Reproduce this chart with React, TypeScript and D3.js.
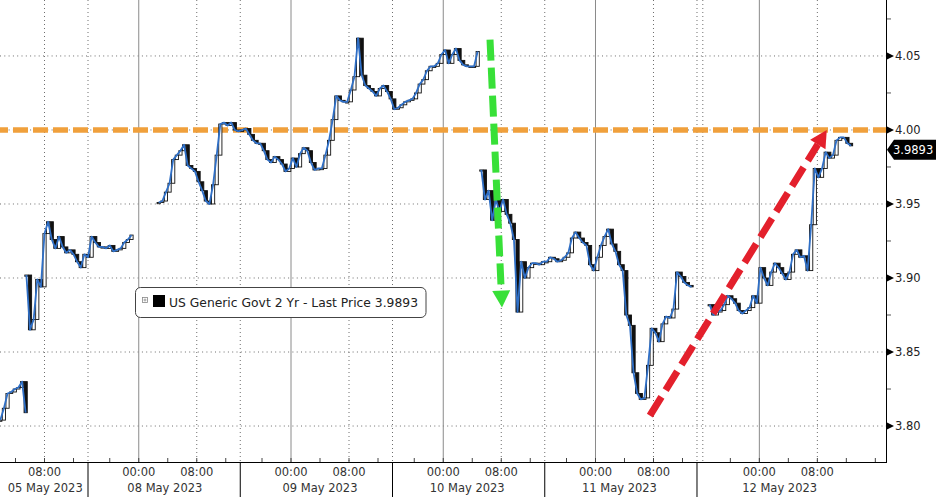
import React from 'react';
import * as d3 from 'd3';

const WIDTH = 936;
const HEIGHT = 497;

const seriesName = 'US Generic Govt 2 Yr - Last Price';

// Time is in compressed trading hours; 0 = start of the 08 May session.
const dayLabels = ['05 May 2023', '08 May 2023', '09 May 2023', '10 May 2023', '11 May 2023', '12 May 2023'];
const dayLabelHours = [-5.9, 10.6, 32, 52.3, 73.3, 95.4];
const midnightHours = [7, 28, 49, 70, 92.6];
const eightHours = [-6, 15, 36, 57, 78, 100.6];
const sessionBreakHours = [0, 21, 42, 63, 84];
const extraGridHours = [84.8];
const domainHours = [-12.14, 110.07];

const yTicks = [3.8, 3.85, 3.9, 3.95, 4.0, 4.05];
const yMinorTicks = [3.825, 3.875, 3.925, 3.975, 4.025, 4.075];
const levelValue = 4.0;

// Price runs (30-minute closes)
const stepHours = 0.5;
const runStartHours = [-12.1, -8.5, 9.75, 54.25, 85.75];
const may05Early = [3.804, 3.812, 3.822, 3.823, 3.825, 3.826, 3.83, 3.809];
const may05Late = [
  3.902, 3.865, 3.872, 3.899, 3.894, 3.93, 3.938, 3.926, 3.92, 3.928,
  3.921, 3.917, 3.919, 3.916, 3.911, 3.907, 3.916, 3.914, 3.928, 3.924,
  3.921, 3.921, 3.92, 3.922, 3.918, 3.919, 3.92, 3.924, 3.926, 3.929,
];
const may08to10 = [
  3.951, 3.952, 3.958, 3.964, 3.98, 3.983, 3.986, 3.99, 3.976, 3.974,
  3.972, 3.965, 3.959, 3.952, 3.95, 3.963, 3.983, 4.004, 4.005, 4.003,
  4.005, 4.0, 3.999, 4.0, 4.001, 3.997, 3.993, 3.991, 3.991, 3.986,
  3.98, 3.978, 3.982, 3.98, 3.977, 3.972, 3.974, 3.981, 3.975, 3.984,
  3.988, 3.986, 3.978, 3.973, 3.974, 3.974, 3.983, 3.993, 4.007, 4.023,
  4.02, 4.019, 4.019, 4.027, 4.036, 4.062, 4.037, 4.03, 4.028, 4.026,
  4.023, 4.028, 4.03, 4.026, 4.021, 4.014, 4.015, 4.017, 4.019, 4.02,
  4.021, 4.025, 4.031, 4.034, 4.04, 4.043, 4.043, 4.045, 4.051, 4.054,
  4.045, 4.051, 4.055, 4.047, 4.044, 4.043, 4.043, 4.043, 4.053,
];
const may10to11 = [
  3.973, 3.953, 3.959, 3.939, 3.953, 3.945, 3.953, 3.943, 3.937, 3.926,
  3.877, 3.911, 3.9, 3.907, 3.91, 3.91, 3.909, 3.911, 3.911, 3.914,
  3.913, 3.911, 3.912, 3.914, 3.917, 3.927, 3.931, 3.927, 3.924, 3.922,
  3.909, 3.905, 3.914, 3.922, 3.928, 3.933, 3.923, 3.918, 3.909, 3.905,
  3.875, 3.868, 3.836, 3.822, 3.818, 3.819, 3.841, 3.866, 3.863, 3.857,
  3.869, 3.874, 3.873, 3.879, 3.904, 3.901, 3.897, 3.895, 3.894,
];
const may12 = [
  3.882, 3.875, 3.877, 3.878, 3.882, 3.888, 3.886, 3.883, 3.878, 3.876,
  3.878, 3.88, 3.888, 3.883, 3.907, 3.9, 3.895, 3.904, 3.91, 3.907,
  3.903, 3.899, 3.904, 3.916, 3.919, 3.914, 3.915, 3.905, 3.936, 3.974,
  3.968, 3.974, 3.985, 3.981, 3.983, 3.993, 3.995, 3.995, 3.991, 3.9893,
];
const runs = [may05Early, may05Late, may08to10, may10to11, may12];

// Annotation arrows (hour, value)
const greenArrowHours = [55.45, 57.1];
const greenArrowValues = [4.061, 3.88];
const redArrowHours = [77.5, 101.9];
const redArrowValues = [3.807, 4.0];

const FONT = "'DejaVu Sans', Verdana, sans-serif";

function Arrow({ x1, y1, x2, y2, color, dash }: { x1: number; y1: number; x2: number; y2: number; color: string; dash: string }) {
  const dx = x2 - x1;
  const dy = y2 - y1;
  const len = Math.hypot(dx, dy);
  const ux = dx / len;
  const uy = dy / len;
  const headLen = 17;
  const headHalf = 9;
  const bx = x2 - ux * headLen;
  const by = y2 - uy * headLen;
  const px = -uy;
  const py = ux;
  return (
    <g>
      <line x1={x1} y1={y1} x2={bx} y2={by} stroke={color} strokeWidth={7} strokeDasharray={dash} />
      <polygon
        points={`${x2},${y2} ${bx + px * headHalf},${by + py * headHalf} ${bx - px * headHalf},${by - py * headHalf}`}
        fill={color}
      />
    </g>
  );
}

export default function App() {
  const plotRight = 886;
  const axisY = 462;
  const x = d3.scaleLinear().domain(domainHours).range([0, plotRight]);
  const y = d3.scaleLinear().domain([3.7757, 4.0878]).range([axisY, 0]);

  const candles = runs.flatMap((vals, r) =>
    vals.map((c, i) => ({
      h: runStartHours[r] + i * stepHours,
      o: i === 0 ? c : vals[i - 1],
      c,
    }))
  );

  const linePaths = runs.map((vals, r) =>
    d3
      .line<number>()
      .x((_, i) => x(runStartHours[r] + i * stepHours))
      .y((d) => y(d))(vals)
  );

  const sessionEdges = [domainHours[0], ...sessionBreakHours, domainHours[1]];
  const minorHours = eightHours.flatMap((e, i) =>
    [-12, -8, -4, 0, 4, 8]
      .map((d) => e + d)
      .filter((t) => t > sessionEdges[i] + 0.5 && t < sessionEdges[i + 1] - 0.5)
  );

  const lastValue = may12[may12.length - 1];
  const tagY = y(lastValue) + 4;

  const candleW = 3.2;

  return (
    <svg
      width={WIDTH}
      height={HEIGHT}
      style={{ position: 'absolute', left: 0, top: 0, background: '#fff' }}
      fontFamily={FONT}
    >
      <rect x={0} y={0} width={WIDTH} height={HEIGHT} fill="#fff" />

      {/* horizontal grid */}
      {yTicks.map((t) => (
        <line key={'hg' + t} x1={0} x2={plotRight} y1={y(t)} y2={y(t)} stroke="#6e6e6e" strokeWidth={1} strokeDasharray="1 3.3" />
      ))}

      {/* vertical grid */}
      {[...eightHours, ...sessionBreakHours, ...extraGridHours].map((h, i) => (
        <line key={'vd' + i} x1={x(h)} x2={x(h)} y1={0} y2={axisY} stroke="#6e6e6e" strokeWidth={1} strokeDasharray="1 3" />
      ))}
      {midnightHours.map((h) => (
        <line key={'vs' + h} x1={x(h)} x2={x(h)} y1={0} y2={axisY} stroke="#8a8a8a" strokeWidth={1} />
      ))}

      {/* level line */}
      <line x1={-7} x2={plotRight} y1={y(levelValue)} y2={y(levelValue)} stroke="#f0a03c" strokeWidth={5.5} strokeDasharray="15 5" />

      {/* candles */}
      {candles.map((d, i) => {
        const top = y(Math.max(d.o, d.c));
        const bot = y(Math.min(d.o, d.c));
        const up = d.c >= d.o;
        return (
          <rect
            key={'c' + i}
            x={x(d.h) - candleW / 2}
            y={top}
            width={candleW}
            height={Math.max(bot - top, 1.2)}
            fill={up ? '#fff' : '#111'}
            stroke="#111"
            strokeWidth={0.9}
          />
        );
      })}

      {/* close line */}
      {linePaths.map((p, i) => (
        <path key={'l' + i} d={p || ''} fill="none" stroke="#2f6fc6" strokeWidth={1.8} strokeLinejoin="round" />
      ))}

      {/* arrows */}
      <Arrow
        x1={x(greenArrowHours[0])}
        y1={y(greenArrowValues[0])}
        x2={x(greenArrowHours[1])}
        y2={y(greenArrowValues[1])}
        color="#38e038"
        dash="21 7"
      />
      <Arrow
        x1={x(redArrowHours[0])}
        y1={y(redArrowValues[0])}
        x2={x(redArrowHours[1])}
        y2={y(redArrowValues[1])}
        color="#e3202c"
        dash="22 8"
      />

      {/* legend */}
      <g>
        <rect x={135.5} y={287.5} width={290.5} height={30} rx={5} fill="#fff" stroke="#444" strokeWidth={1} />
        <rect x={142.5} y={297.5} width={5} height={5} fill="none" stroke="#888" strokeWidth={0.8} />
        <line x1={143.5} x2={146.5} y1={300} y2={300} stroke="#888" strokeWidth={0.8} />
        <line x1={145} x2={145} y1={298.5} y2={301.5} stroke="#888" strokeWidth={0.8} />
        <rect x={153} y={295} width={12} height={12} fill="#000" />
        <text x={169} y={302.5} dominantBaseline="central" fontSize={13} fill="#222" textLength={249} lengthAdjust="spacingAndGlyphs">
          {`${seriesName} ${lastValue.toFixed(4)}`}
        </text>
      </g>

      {/* right axis */}
      <line x1={plotRight + 0.5} x2={plotRight + 0.5} y1={0} y2={axisY} stroke="#000" strokeWidth={1} />
      {yMinorTicks.map((t) => (
        <line key={'ym' + t} x1={plotRight + 1} x2={plotRight + 5} y1={y(t)} y2={y(t)} stroke="#555" strokeWidth={1} />
      ))}
      {yTicks.map((t) => (
        <g key={'yt' + t}>
          <polygon points={`${plotRight + 1},${y(t) - 3.5} ${plotRight + 8},${y(t)} ${plotRight + 1},${y(t) + 3.5}`} fill="#000" />
          <text x={plotRight + 9} y={y(t)} dominantBaseline="central" fontSize={11.5} fill="#222">
            {t.toFixed(2)}
          </text>
        </g>
      ))}

      {/* last price tag */}
      <g>
        <polygon
          points={`${plotRight + 1},${tagY} ${plotRight + 8},${tagY - 10} ${WIDTH},${tagY - 10} ${WIDTH},${tagY + 10} ${plotRight + 8},${tagY + 10}`}
          fill="#000"
        />
        <text x={plotRight + 7} y={tagY} dominantBaseline="central" fontSize={11.5} fill="#fff">
          {lastValue.toFixed(4)}
        </text>
      </g>

      {/* bottom axis */}
      <line x1={0} x2={plotRight + 1} y1={axisY + 0.5} y2={axisY + 0.5} stroke="#000" strokeWidth={1} />
      {minorHours.map((h, i) => (
        <line key={'xm' + i} x1={x(h)} x2={x(h)} y1={axisY - 4} y2={axisY} stroke="#444" strokeWidth={1} />
      ))}
      {sessionBreakHours.map((h) => (
        <line key={'sb' + h} x1={x(h)} x2={x(h)} y1={axisY} y2={HEIGHT} stroke="#000" strokeWidth={1} />
      ))}
      {midnightHours.map((h) => (
        <text key={'tm' + h} x={x(h)} y={472} textAnchor="middle" dominantBaseline="central" fontSize={11.5} fill="#333">
          00:00
        </text>
      ))}
      {eightHours.map((h) => (
        <text key={'te' + h} x={x(h)} y={472} textAnchor="middle" dominantBaseline="central" fontSize={11.5} fill="#333">
          08:00
        </text>
      ))}
      {dayLabels.map((lab, i) => (
        <text key={lab} x={x(dayLabelHours[i])} y={487.5} textAnchor="middle" dominantBaseline="central" fontSize={11.5} fill="#333">
          {lab}
        </text>
      ))}
    </svg>
  );
}
